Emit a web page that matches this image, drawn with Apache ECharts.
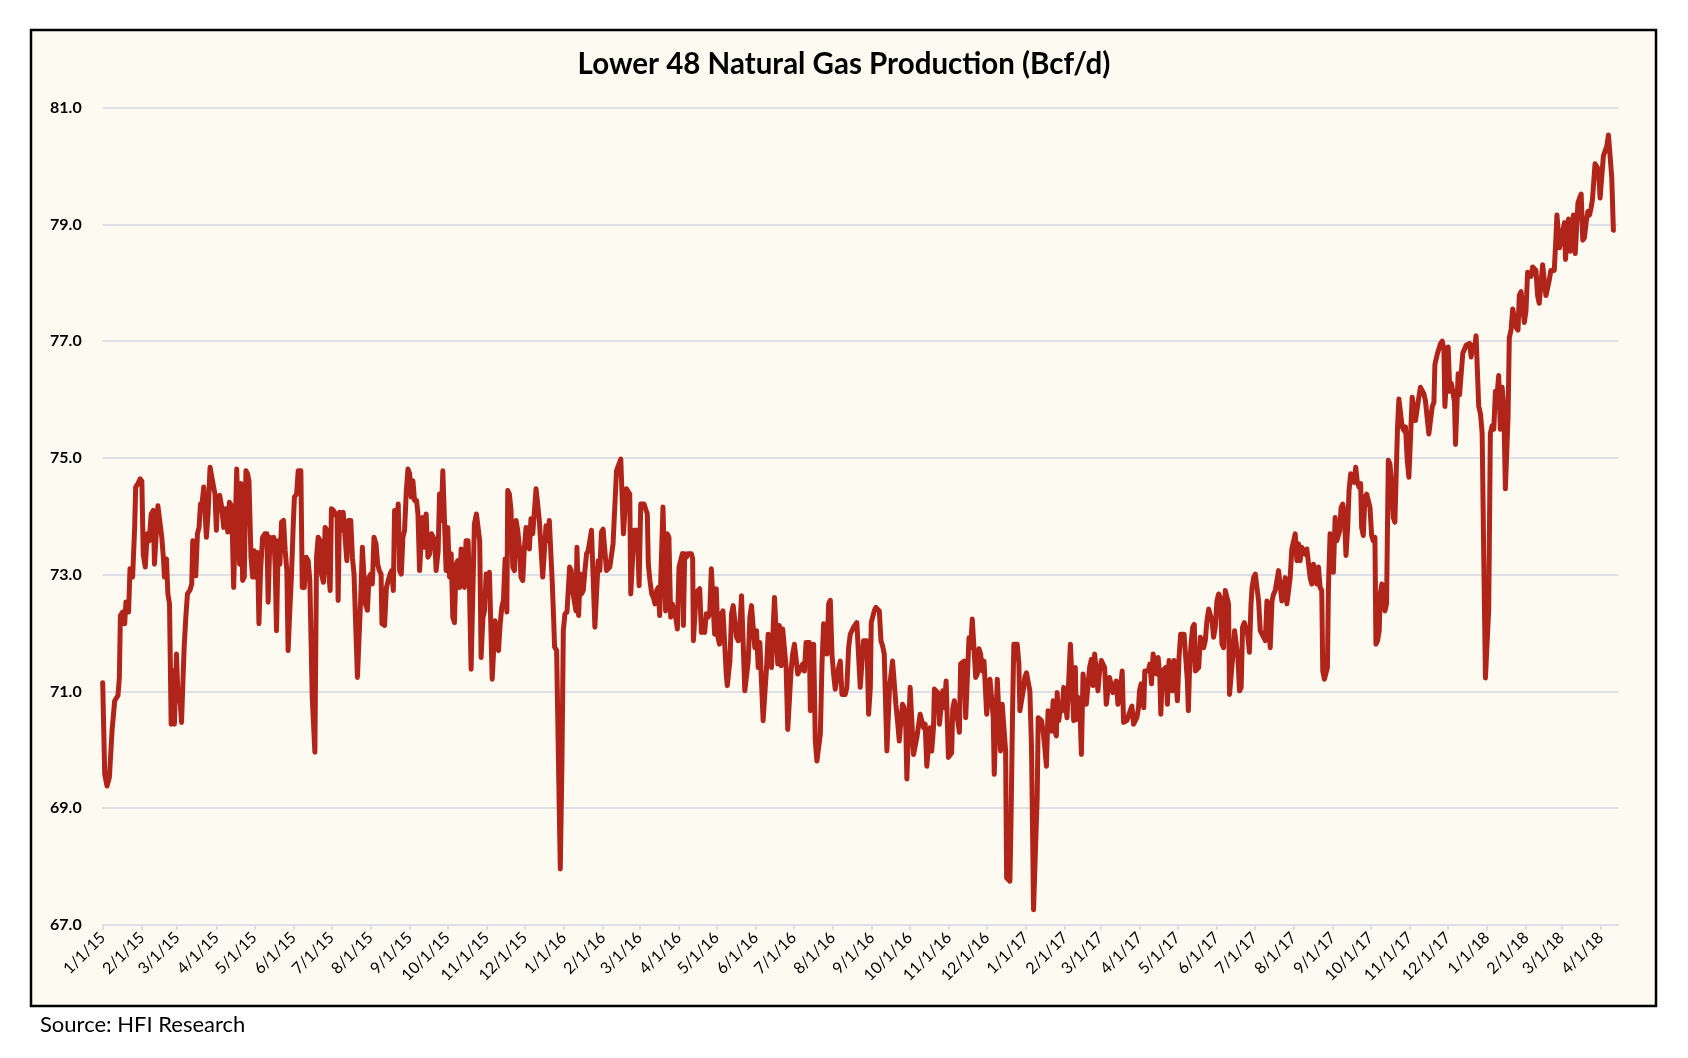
<!DOCTYPE html>
<html><head><meta charset="utf-8">
<script src="https://cdn.jsdelivr.net/npm/echarts@6/dist/echarts.min.js"></script>
<style>html,body{margin:0;padding:0;background:#fff}#c{width:1688px;height:1058px}</style>
</head><body><div id="c"></div>
<script>
const chartTitle = 'Lower 48 Natural Gas Production (Bcf/d)';
const sourceNote = 'Source: HFI Research';
const tickLabels = ['1/1/15','2/1/15','3/1/15','4/1/15','5/1/15','6/1/15','7/1/15','8/1/15','9/1/15','10/1/15','11/1/15','12/1/15',
  '1/1/16','2/1/16','3/1/16','4/1/16','5/1/16','6/1/16','7/1/16','8/1/16','9/1/16','10/1/16','11/1/16','12/1/16',
  '1/1/17','2/1/17','3/1/17','4/1/17','5/1/17','6/1/17','7/1/17','8/1/17','9/1/17','10/1/17','11/1/17','12/1/17',
  '1/1/18','2/1/18','3/1/18','4/1/18'];
const yMin = 67, yMax = 81, yStep = 2;

// [days since 1/1/2015, Bcf/d]
const gas2015 = [[0,71.15],[1.6,69.58],[3.4,69.38],[5.3,69.53],[7.4,70.33],[9.5,70.84],[12.1,70.93],[13.2,71.24],[14,72.3],[15.8,72.36],[17.4,72.16],[18.4,72.53],[20.5,72.36],[21.6,73.1],[23.7,72.96],[25.3,73.8],[26.1,74.5],[27.9,74.56],[29.7,74.64],[31,74.6],[32.1,73.35],[33.7,73.13],[35.3,73.7],[36.8,73.58],[38.4,74.04],[40,74.1],[41,73.18],[42.1,73.16],[43.7,74.18],[45,74.16],[46.8,73.64],[48.1,73.27],[48.9,72.96],[50.5,73.27],[51.6,72.67],[52.9,72.5],[54.2,70.44],[55.5,71.36],[56.8,70.44],[58.4,71.64],[59.7,70.84],[61.3,70.84],[62.4,70.47],[63.7,70.44],[64.5,71.76],[65.8,72.27],[67.1,72.67],[69,72.73],[70.5,72.84],[71.3,73.58],[72.6,73.58],[73.7,72.98],[75,73.7],[76.3,73.81],[77.4,74.21],[78.4,74.16],[80,74.5],[81.1,74.47],[82.1,73.64],[83.4,74.04],[85,74.84],[86.3,74.87],[87.6,74.53],[88.9,74.38],[90,73.76],[91,74.33],[92.6,74.36],[94.2,74.16],[95.8,73.81],[97.4,74.13],[99,73.73],[100.3,74.24],[102.1,74.18],[103.7,72.78],[105,72.78],[106.1,74.81],[107.4,74.78],[108.4,73.18],[109.5,74.56],[110.8,72.9],[112.1,72.96],[113.4,74.78],[114.7,74.73],[115.8,74.61],[117.4,73.3],[118.7,72.96],[120,73.41],[121.6,72.96],[122.6,73.38],[123.7,72.16],[125,73.07],[126.6,73.64],[128.4,73.7],[130,73.7],[131,72.53],[132.4,73.64],[133.9,73.58],[135.5,73.64],[136.6,73.13],[137.6,72.04],[139,73.58],[140.3,73.18],[141.6,73.9],[143.2,73.93],[144.5,73.41],[145.8,73.07],[146.8,71.7],[147.9,72.27],[149.5,73.01],[150.8,73.81],[151.8,74.33],
[153.5,74.38],[154.8,74.78],[156.9,74.78],[158,72.78],[159.6,72.78],[161.1,73.3],[162.7,73.24],[164,72.9],[165.9,70.9],[168,69.96],[169.3,73.3],[170.6,73.64],[172.2,73.58],[173.2,73.01],[174.8,72.87],[176.1,73.81],[177.5,73.76],[178.8,73.07],[180.1,72.73],[181.1,74.13],[182.7,74.1],[184.3,74.04],[185.6,73.98],[186.4,72.56],[187.5,74.07],[189,73.76],[190.4,74.07],[191.9,74.04],[193.3,73.24],[194.6,73.93],[196.4,73.93],[197.7,73.3],[199,73.01],[200.1,72.27],[201.7,71.24],[203.2,71.24],[204.3,72.61],[205.6,73.47],[206.7,73.44],[208,72.5],[209.6,72.39],[210.9,72.96],[212.2,73.01],[213.5,72.84],[214.8,73.64],[216.4,73.53],[217.7,73.18],[219,73.07],[220.4,73.01],[221.1,72.16],[223.2,72.13],[224.6,72.78],[226.1,72.9],[227.5,73.01],[228.8,73.07],[230.1,72.73],[231.1,74.1],[232.7,73.87],[234,74.21],[235.1,73.07],[236.4,73.01],[237.7,73.64],[239,73.76],[240.4,74.44],[241.7,74.81],[243,74.73],[244.3,74.33],[245.6,74.61],[246.9,74.27],[248.5,74.27],[249.6,74.04],[250.9,73.07],[252.2,73.1],[253.2,73.98],[254.6,73.47],[256.1,74.04],[257.5,73.3],[259,73.36],[260.4,73.7],[261.7,73.7],[263,73.58],[264,73.07],[265.6,73.41],[266.7,74.38],[268,73.93],[269.3,74.78],[270.6,74.76],[271.9,73.07],[273.2,73.81],[274.6,72.96],[275.9,73.36],[277.2,72.27],[278.5,72.18],[279.8,73.18],[281.1,73.24],[282.5,72.78],[283.8,73.44],[285.4,73.41],[286.4,72.78],[287.7,73.58],[289.3,73.58],[290.4,72.78],[291.7,71.38],[293.2,71.38],[294.3,73.87],[295.9,74.04],[297.2,74.07],[298.5,73.58],[299.6,71.58],[301.1,72.27],
[302.3,72.38],[303.6,73.01],[304.9,72.78],[306.2,73.04],[307.6,73.01],[308.4,71.21],[309.7,71.21],[310.7,72.21],[312,71.76],[313.4,71.7],[314.7,72.16],[316,72.44],[317.3,72.56],[318.6,73.27],[320,72.36],[320.7,74.44],[322,74.38],[323.3,74.1],[324.7,73.13],[326,73.07],[327.3,73.93],[328.6,73.76],[329.9,73.47],[331.2,72.96],[332.6,72.9],[333.9,73.47],[335.2,73.81],[336.5,73.81],[337.8,73.44],[339.1,73.96],[340.5,73.7],[341.8,73.7],[343.1,74.47],[344.4,74.21],[345.7,73.93],[347,73.9],[348.4,72.96],[349.7,72.96],[351,73.84],[352.3,73.58],[353.6,73.93],[354.9,73.93],[356,72.84],[357,72.27],[357.8,71.76],[359.4,71.7],[362.3,67.96],[363.6,69.76]];

const gas2016 = [[364.7,72.04],[366,72.33],[367.6,72.36],[368.6,72.73],[369.7,73.13],[371,73.07],[372,72.73],[373.3,72.56],[374.7,72.38],[375.5,73.47],[376.8,72.3],[378.1,73.01],[379.1,72.67],[380.5,72.73],[381.8,73.07],[383.1,73.36],[384.4,73.41],[385.7,73.58],[387,73.76],[388.3,73.76],[389.7,72.1],[391.2,72.1],[392.3,73.24],[393.6,73.07],[394.9,73.73],[396.2,73.78],[397.6,73.76],[398.9,73.07],[400.2,73.07],[401.5,73.13],[402.8,73.13],[404.1,73.53],[405.5,73.53],[406.8,74.78],[407.8,74.84],[409.1,74.84],[410.2,74.98],[411.5,74.98],[412.3,73.7],[413.3,73.67],[414.7,74.47],[416,74.44],[417.3,74.38],[418.1,72.67],[419.4,72.67],[420.7,73.76],[422,73.78],[423.3,73.76],[424.7,72.81],[426,74.21],[427.3,74.24],[428.6,74.21],[429.9,74.18],[431.2,74.04],[432,73.18],[433.3,72.9],[434.7,72.67],[436,72.61],[437.3,72.5],[438.6,72.73],[439.9,72.78],[441,72.3],[442.3,72.27],[443.6,74.16],[444.9,74.16],[445.7,72.38],[447,73.7],[448.3,73.64],[449.7,72.27],[451,72.5],
[452.4,72.38],[453.7,72.27],[455,72.07],[456.3,73.13],[457.7,73.16],[459,73.36],[459.8,72.13],[460.8,73.36],[462.1,73.3],[463.4,73.36],[464.8,73.38],[466.1,73.36],[467.1,73.27],[467.7,71.87],[469,71.84],[470,72.7],[471.3,72.7],[472.7,72.76],[474,72.01],[475.3,72.1],[476.6,72.01],[477.9,72.33],[479.2,72.27],[480.6,72.33],[481.9,73.1],[483.2,73.1],[484.5,71.98],[485.8,72.76],[487.1,71.93],[488.4,71.81],[489.8,72.33],[491.1,72.38],[492.4,72.38],[493.7,71.3],[494.5,71.1],[495.8,71.1],[496.6,71.52],[497.9,72.33],[499.2,72.47],[500.5,72.47],[501.9,71.93],[503.2,71.87],[504.5,72.1],[505.8,72.64],[507.1,72.61],[508.4,71.01],[509.8,71.01],[511.1,71.52],[512.4,72.27],[513.7,72.47],[515,72.47],[516.3,71.75],[517.7,72.04],[519,71.41],[520.3,71.84],[521.6,71.84],[522.9,70.5],[524.2,70.47],[525.6,71.41],[526.9,71.98],[528.2,71.98],[529.5,71.41],[530.8,71.41],[531.9,72.61],[533.2,72.61],[534.5,71.47],[535.8,72.13],[537.1,71.44],[538.4,72.07],[539.8,72.07],[541.1,71.41],[542.4,70.35],[543.7,70.38],[545,71.35],[546.3,71.64],[547.7,71.81],[549,71.81],[550.3,71.3],[551.6,71.35],[552.9,71.35],[554.2,71.47],[555.6,71.35],[556.9,71.84],[558.2,71.87],[559.5,71.84],[560.3,70.67],[561.6,70.67],[562.9,71.81],[564.2,70.15],[565.5,69.81],[566.9,69.81],[568.2,70.27],[569.5,71.47],[570.8,72.16],[572.1,72.18],[573.4,71.64],[574.8,72.5],[576.1,72.56],[577.4,71.64],[578.7,71.3],[580,71.04],[581.3,71.04],[582.7,71.41],[584,71.52],[585.3,70.95],[586.6,70.93],[587.9,70.95],[589.2,71.07],[590.6,71.75],[591.9,71.98],[593.2,71.98],[594.5,72.1],[595.8,72.1],[597.1,72.18],[598.5,72.18],[599.8,71.07],[601.1,71.04],[602.4,71.87],
[603.8,71.9],[605.1,71.87],[606.4,70.61],[607.8,71.07],[608.5,72.18],[609.9,72.21],[610.9,72.38],[612.2,72.44],[613.5,72.44],[614.9,72.38],[616.2,71.87],[617.5,71.78],[618.8,71.64],[620.1,71.64],[620.9,69.98],[622.2,69.98],[623,71.07],[624.1,71.07],[625.4,71.52],[626.7,71.52],[628,70.78],[629.3,70.5],[630.7,70.15],[632,70.5],[633.3,70.78],[634.6,70.72],[635.9,70.38],[636.7,69.5],[638,69.52],[639.3,71.07],[640.7,71.1],[642,69.92],[643.3,69.9],[644.6,70.21],[645.9,70.21],[647.2,70.61],[648.6,70.64],[649.9,70.38],[651.2,70.44],[652.5,69.72],[653.8,69.72],[655.1,70.38],[656.4,69.98],[657.8,70.38],[658.5,71.04],[659.9,71.04],[661.2,70.98],[662.5,70.44],[663.8,70.44],[665.1,71.01],[666.4,70.72],[667.8,71.18],[669.1,71.18],[669.6,69.87],[670.9,69.9],[672.2,69.95],[673,70.7],[674.3,70.84],[675.7,70.84],[677,70.5],[678.3,70.3],[679.3,71.47],[680.7,71.5],[682,71.52],[683.3,70.55],[684.6,70.55],[685.9,71.92],[687.2,71.75],[688.5,72.24],[689.9,72.24],[691.2,71.24],[692.5,71.3],[693.8,71.73],[695.1,71.64],[696.4,71.35],[697.8,71.52],[699.1,71.5],[699.9,70.61],[701.2,70.61],[702.5,71.21],[703.8,71.21],[705.1,70.55],[705.9,69.58],[707.2,69.58],[708.3,71.21],[709.6,71.21],[710.9,69.98],[712.2,70.78],[713.5,70.78],[714.9,69.98],[715.7,67.81],[717,67.78],[718.3,67.75],[719.1,68.67],[720.4,70.67],[721.4,71.81],[722.8,71.84],[724.1,71.81],[725.4,71.47],[726.2,70.67],[727.5,70.64],[728.8,71.01],[730.1,71.24]];

const gas2017 = [[731.4,71.32],[732.8,71.3],[734.1,71.01],[735.4,70.04],[736.2,68.67],[737,67.26],[738.3,67.26],[739.1,68.67],[739.9,69.18],[740.7,70.55],[742,70.58],[743.3,70.5],[744.6,70.32],[745.9,70.04],[747.2,69.72],[748.5,70.67],[749.9,70.67],[751.2,70.32],[752.5,70.84],
[753.8,70.32],[755.1,70.24],[755.7,70.98],[757,70.5],[758.3,70.72],[759.6,70.67],[760.9,71.07],[762.2,71.1],[763.5,70.55],[764.9,70.55],[766.2,71.81],[767.5,71.81],[768.8,70.5],[770.1,71.41],[770.9,70.52],[772.2,70.9],[773.5,70.84],[774.9,69.92],[776.2,71.3],[777.5,71.33],[778.8,70.78],[780.1,70.78],[781.4,71.41],[782.8,71.55],[784.1,71.1],[785.4,71.64],[786.7,71.64],[788,71.01],[789.3,71.35],[790.7,71.53],[792,71.53],[793.3,71.41],[794.6,70.78],[795.9,70.78],[797.2,71.24],[798.6,71.24],[799.9,70.98],[801.2,71.07],[802.5,71.18],[803.8,70.78],[805.1,70.78],[806.4,71.18],[807.2,71.35],[808.3,70.47],[809.6,70.5],[810.9,70.5],[812.2,70.5],[813.5,70.67],[814.9,70.75],[816.2,70.44],[817.5,70.44],[818.8,70.55],[820.1,70.72],[820.9,71.01],[822.2,71.13],[823.5,71.13],[824.3,70.72],[825.1,71.35],[826.4,71.38],[827.8,71.35],[829.1,71.47],[830.4,71.13],[831.7,71.64],[833,71.64],[834.3,71.3],[835.7,71.58],[837,71.24],[837.8,70.61],[839.1,71.35],[840.4,71.38],[841.7,71.41],[843,70.78],[844.3,71.53],[845.7,71.5],[847,71.01],[848.3,71.53],[849.6,71.24],[850.9,70.84],[852.2,71.58],[853.5,71.98],[854.9,71.98],[856.2,71.98],[857.5,71.58],[858.8,71.18],[859.6,70.67],[860.4,71.3],[861.7,71.81],[863,72.1],[864.3,72.15],[865.1,71.35],[866.4,71.38],[867.8,71.41],[869.1,71.93],[870.4,71.93],[871.7,71.75],[873,71.87],[874.3,72.21],[875.7,72.41],[877,72.41],[878.3,72.21],[879.6,71.93],[880.9,72.1],[882.2,72.55],[883.6,72.67],[884.9,72.61],[886.2,71.81],[887.5,71.75],[888.8,72.73],[890.1,72.73],[891.4,72.5],[892.2,70.95],[893.5,70.95],[894.9,71.64],[896.2,72.04],[897.5,72.07],[898.8,71.58],[900.1,71.01],[901.4,71.07],[902.5,72.1],
[903.9,72.18],[905.2,72.21],[906.5,71.98],[907.9,71.67],[909.2,72.5],[910,72.78],[911.3,72.95],[912.6,73.01],[913.9,73.01],[915.2,72.55],[916.5,72.04],[917.9,71.98],[919.2,71.93],[920.5,71.87],[921.8,72.55],[923.1,72.53],[924.4,71.75],[925.8,72.55],[927.1,72.67],[928.4,72.73],[929.7,72.73],[931,73.07],[932.3,73.07],[933.6,72.55],[935,72.55],[936.3,72.95],[937.6,72.5],[938.9,72.47],[940.2,72.95],[941.5,73.44],[942.9,73.44],[944.2,73.7],[945.5,73.24],[946.8,73.53],[948.1,73.24],[949.4,73.47],[950.8,73.47],[952.1,73.35],[953.4,73.44],[954.7,73.44],[956,72.95],[957.3,72.84],[958.6,73.18],[960,73.18],[961.3,72.84],[962.6,73.13],[963.9,72.78],[965.2,72.73],[966,71.35],[967.3,71.21],[968.6,71.21],[969.7,71.41],[970.5,72.78],[971.8,73.7],[973.1,73.7],[974.4,73.04],[975.8,73.98],[977.1,73.58],[978.4,73.58],[979.4,73.75],[980.5,74.15],[981.8,74.21],[983.1,74.04],[984.4,73.33],[985.8,73.84],[986.8,74.44],[988.1,74.73],[989.4,74.73],[990.8,74.58],[992.1,74.84],[993.4,74.58],[994.7,74.5],[996,74.56],[996.8,73.81],[998.1,73.67],[999.4,74.33],[1000.8,74.38],[1002.1,74.41],[1003.4,74.15],[1004.7,73.67],[1006,73.58],[1007.3,73.64],[1008.1,71.81],[1009.4,71.87],[1010.7,72.04],[1011.5,72.67],[1012.8,72.84],[1014.2,72.78],[1015.2,72.38],[1016.5,72.5],[1017.9,74.96],[1019.2,74.9],[1020.5,74.56],[1021.8,73.98],[1023.1,73.9],[1024.4,73.93],[1025.2,75.53],[1026.3,76.01],[1027.6,75.98],[1028.9,75.53],[1030.2,75.47],[1031.5,75.53],[1032.9,74.96],[1034.2,74.67],[1035.5,74.64],[1036.8,76.04],[1038.1,76.07],[1039.4,75.64],[1040.8,75.67],[1042.1,76.04],[1043.4,76.21],[1044.7,76.24],[1046,76.1],[1047.3,75.98],[1048.6,75.7],[1050,75.41],[1051.3,75.44],
[1052.7,75.88],[1054,75.95],[1054.8,76.6],[1055.9,76.6],[1056.6,76.77],[1058,76.8],[1059.3,76.96],[1060.6,77],[1061.9,76.87],[1062.7,75.88],[1064,75.91],[1065.3,76.9],[1066.6,76.14],[1067.7,76.28],[1069,76.14],[1070.3,75.95],[1071.1,75.23],[1072.4,75.23],[1073.2,76.44],[1074.3,76.08],[1075.6,76.08],[1076.9,76.8],[1078.2,76.86],[1079.5,76.93],[1080.9,76.93],[1082.2,76.96],[1083.5,76.73],[1084.8,76.93],[1086.1,76.86],[1087.4,77.09],[1088.7,77.09],[1089.5,75.88],[1090.9,75.75],[1092.2,75.42],[1093.5,73.26],[1094.8,71.23]];

const gas2018 = [[1096.1,71.23],[1097.4,72.41],[1098.7,75.42],[1100.1,75.55],[1101.4,75.49],[1102.7,76.14],[1104,76.08],[1105.3,76.41],[1106.6,75.49],[1108,76.21],[1109.3,75.88],[1110.6,74.47],[1111.9,74.47],[1112.7,75.69],[1113.7,77.06],[1115.1,77.19],[1116.4,77.55],[1117.7,77.55],[1119.3,77.23],[1120.6,77.19],[1121.6,77.78],[1123,77.85],[1124.3,77.85],[1125.6,77.32],[1126.9,77.52],[1128.2,78.18],[1129.5,78.18],[1130.9,78.11],[1132.2,78.27],[1133.5,78.27],[1134.8,78.21],[1136.1,77.78],[1137.4,77.65],[1138.7,77.65],[1140.1,78.31],[1141.4,78.34],[1142.7,77.78],[1144,77.75],[1145.3,78.04],[1146.6,78.21],[1148,78.21],[1149.3,78.21],[1150.6,78.77],[1151.4,79.16],[1152.7,79.13],[1153.5,78.6],[1154.8,78.63],[1156.1,78.9],[1157.4,79.03],[1158.2,78.4],[1159.5,78.4],[1160.6,79.09],[1161.9,78.54],[1163.2,78.9],[1164.5,79.16],[1165.9,78.5],[1167.2,78.47],[1168,79.36],[1169.3,79.45],[1170.6,79.52],[1171.9,78.73],[1173.2,78.77],[1174.5,79.03],[1175.9,79.22],[1177.2,79.16],[1178.5,79.29],[1179.5,79.42],[1180.9,79.45],[1181.6,80.04],[1182.9,80.01],[1184.3,79.94],[1185.6,79.45],[1186.9,79.42],[1188.2,80.17],[1189.5,80.14],[1190.9,80.34],[1192.2,80.53],[1193.5,80.53],[1194.8,79.81],[1195.6,79.78],[1196.1,78.9]];

const dayOf = s => { const p = s.split('/').map(Number); return Math.round((Date.UTC(2000 + p[2], p[0] - 1, p[1]) - Date.UTC(2015, 0, 1)) / 86400000); };
const tickDays = tickLabels.map(dayOf);
const labelByDay = {};
tickLabels.forEach((t, i) => { labelByDay[tickDays[i]] = t; });
const seriesData = [].concat(gas2015, gas2016, gas2017, gas2018);

const FONT = 'Lato';
const chart = echarts.init(document.getElementById('c'), null, { renderer: 'canvas' });
chart.setOption({
  backgroundColor: '#ffffff',
  animation: false,
  textStyle: { fontFamily: FONT },
  graphic: [
    { type: 'rect', z: -10, shape: { x: 31, y: 30, width: 1625, height: 976 },
      style: { fill: '#FDFAF1', stroke: '#000000', lineWidth: 2.5 } },
    { type: 'text', z: 10, x: 844, y: 64,
      style: { text: chartTitle, fontFamily: FONT, fontWeight: 'bold', fontSize: 29.5, fill: '#000', align: 'center', verticalAlign: 'middle' } },
    { type: 'text', z: 10, x: 40, y: 1025,
      style: { text: sourceNote, fontFamily: FONT, fontSize: 22, fill: '#000', align: 'left', verticalAlign: 'middle' } }
  ],
  grid: { left: 102.7, right: 69.7, top: 107.6, bottom: 133, containLabel: false, outerBoundsMode: 'none' },
  xAxis: {
    type: 'value', min: 0, max: 1200,
    axisLine: { show: true, onZero: false, lineStyle: { color: '#DCDFE5', width: 2 } },
    axisTick: { show: true, customValues: tickDays, length: 5, lineStyle: { color: '#DCDFE5', width: 2 } },
    axisLabel: { customValues: tickDays, rotate: 45, margin: 10, fontSize: 16, fontFamily: FONT, color: '#000',
      formatter: v => labelByDay[Math.round(v)] || '' },
    splitLine: { show: false }
  },
  yAxis: {
    type: 'value', min: yMin, max: yMax, interval: yStep,
    axisLine: { show: false }, axisTick: { show: false },
    axisLabel: { formatter: v => v.toFixed(1), fontWeight: 'bold', fontSize: 16, fontFamily: FONT, color: '#000', margin: 21 },
    splitLine: { show: true, lineStyle: { color: '#DCDFE5', width: 2 } }
  },
  series: [{
    type: 'line', data: seriesData, showSymbol: false, z: 3,
    lineStyle: { color: '#B1241A', width: 5, join: 'round', cap: 'round' },
    itemStyle: { color: '#B1241A' }
  }]
});
</script></body></html>
